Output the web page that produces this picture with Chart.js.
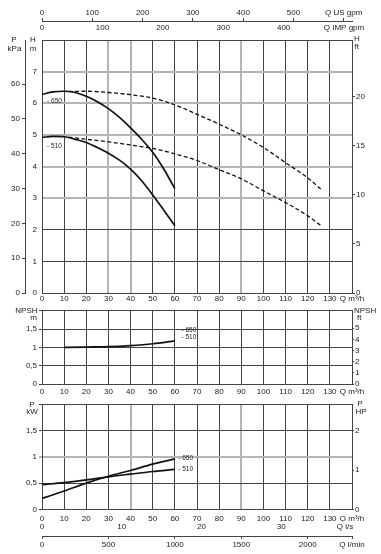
<!DOCTYPE html>
<html>
<head>
<meta charset="utf-8">
<script src="https://cdn.jsdelivr.net/npm/chart.js@4"></script>
<style>
body{margin:0;background:#fff;width:381px;height:554px;position:relative;overflow:hidden}
canvas{position:absolute;left:0}
</style>
</head>
<body>
<canvas id="headChart" width="381" height="304" style="top:0"></canvas>
<canvas id="npshChart" width="381" height="93" style="top:304px"></canvas>
<canvas id="powerChart" width="381" height="157" style="top:397px"></canvas>
<script>

// Q in m3/h, head in m, npsh in m, power in kW
let qPump=[0,5,10,15,20,25,30,35,40,45,50,55,60]
let head650=[6.28,6.36,6.38,6.34,6.22,6.05,5.83,5.55,5.22,4.86,4.45,3.92,3.3]
let head510=[4.92,4.95,4.94,4.86,4.76,4.6,4.42,4.2,3.92,3.55,3.1,2.62,2.13]

let qTwin=[12,20,30,40,50,60,70,80,90,100,110,120,126]
let twin650=[6.37,6.38,6.34,6.27,6.16,5.95,5.65,5.34,5.0,4.6,4.12,3.64,3.28]
let twin510=[4.93,4.86,4.78,4.68,4.57,4.4,4.19,3.9,3.61,3.23,2.86,2.44,2.13]

let qNpsh=[10,20,30,40,50,60]
let npsh=[1.0,1.01,1.02,1.05,1.1,1.18]

let qPower=[0,10,20,30,40,50,60]
let power650=[0.21,0.35,0.5,0.63,0.74,0.86,0.96]
let power510=[0.47,0.51,0.56,0.62,0.67,0.72,0.76]

let models=["650","510"]
let headTagQ=[2.3,2.3]
let headTagH=[6.08,4.63]
let npshTagQ=[63,63]
let npshTagV=[1.48,1.27]
let powerTagQ=[61.5,61.5]
let powerTagV=[0.97,0.76]

let lminTicks=[0,500,1000,1500,2000]
let lsTicks=[0,10,20,30]

let qMax=140
let usGpm=4.4029
let impGpm=3.666
let lsFactor=3.6
let lminFactor=0.06


Chart.defaults.font.family="'Liberation Sans', Arial, sans-serif"
Chart.defaults.font.size=8
Chart.defaults.color="#222"

let gridCol="#444"
let softCol="#b4b4b4"

function xy(q,v){
return q.map((x,i)=>({x:x,y:v[i]}))
}

function curve(q,v,axis,dashed){
return {
data:xy(q,v),
yAxisID:axis,
borderColor:"#111",
borderWidth:dashed?1.3:1.7,
borderDash:dashed?[4,2.5]:[],
pointRadius:0,
cubicInterpolationMode:"monotone",
fill:false
}
}

function grid(soft){
return {
color:c=>soft.includes(c.tick&&c.tick.value)?softCol:gridCol,
lineWidth:c=>soft.includes(c.tick&&c.tick.value)?2:1,
drawTicks:false
}
}

function comma(v){
return String(v).replace(".",",")
}

function qAxis(h,pad,soft){
return {
type:"linear",position:"bottom",min:0,max:qMax,weight:0,
ticks:{stepSize:10,autoSkip:false,maxRotation:0,padding:pad,callback:v=>v===qMax?"Q m³/h":v},
grid:grid(soft),
border:{color:gridCol},
afterFit:s=>{s.height=h}
}
}

function sideAxis(pos,max,step,width,shown,pad,tick,fmt){
return {
type:"linear",position:pos,min:0,max:max,
ticks:{stepSize:step,includeBounds:false,padding:pad,callback:v=>v>shown?null:fmt(v)},
grid:{drawOnChartArea:false,tickLength:tick,color:gridCol},
border:{color:gridCol},
afterFit:s=>{s.width=width}
}
}


/* unit labels and curve tags */

let chartText={
id:"chartText",
afterDraw(chart,args,opts){
let ctx=chart.ctx
let a=chart.chartArea
ctx.save()
ctx.fillStyle="#222"
ctx.textBaseline="middle"
ctx.font="8px 'Liberation Sans', Arial, sans-serif"
opts.units.forEach(u=>{
ctx.textAlign=u[4]
let x=u[1]==="left"?a.left+u[2]:a.right+u[2]
ctx.fillText(u[0],x,a.top+u[3])
})
ctx.font="6.5px 'Liberation Sans', Arial, sans-serif"
ctx.textAlign="left"
opts.tags.forEach(t=>{
let x=chart.scales.x.getPixelForValue(t.q)
let y=chart.scales[t.axis].getPixelForValue(t.v)
ctx.fillText("- "+t.text,x,y)
})
ctx.restore()
}
}

function tags(q,v,axis){
return models.map((m,i)=>({text:m,q:q[i],v:v[i],axis:axis}))
}

let base={
responsive:false,
animation:false,
devicePixelRatio:1,
events:[]
}


let headChart=new Chart(document.getElementById("headChart"),{

type:"line",

plugins:[chartText],

data:{
datasets:[
curve(qPump,head650,"h",false),
curve(qPump,head510,"h",false),
curve(qTwin,twin650,"h",true),
curve(qTwin,twin510,"h",true)
]
},

options:Object.assign({},base,{
layout:{padding:0},
plugins:{
legend:{display:false},
tooltip:{enabled:false},
chartText:{
units:[
["P","left",-28,0,"center"],
["kPa","left",-27.5,9,"center"],
["H","left",-9,0,"center"],
["m","left",-9,9,"center"],
["H","right",2,-1,"left"],
["ft","right",2.5,6.5,"left"]
],
tags:tags(headTagQ,headTagH,"h")
}
},
scales:{
x:qAxis(11,1,[30,40,90]),
us:{
type:"linear",position:"top",min:0,max:qMax*usGpm,weight:2,
ticks:{stepSize:100,includeBounds:false,autoSkip:false,maxRotation:0,padding:0,callback:v=>v===600?"Q US gpm":v},
grid:{drawOnChartArea:false,tickLength:3,color:gridCol},
border:{color:gridCol},
afterFit:s=>{s.height=21}
},
imp:{
type:"linear",position:"top",min:0,max:qMax*impGpm,weight:1,
ticks:{stepSize:100,includeBounds:false,autoSkip:false,maxRotation:0,padding:7,callback:v=>v===500?"Q IMP gpm":v},
grid:{display:false,drawTicks:false,tickLength:0},
border:{display:false},
afterFit:s=>{s.height=19}
},
kpa:Object.assign(sideAxis("left",72.7,10,25,60,2,3,v=>v),{weight:2}),
h:{
type:"linear",position:"left",min:0,max:8,weight:1,
ticks:{stepSize:1,padding:5,callback:v=>v===8?"":v},
grid:grid([3,4,5,6,7]),
border:{color:gridCol},
afterFit:s=>{s.width=17}
},
hft:sideAxis("right",25.8,5,29,20,1,3,v=>v)
}
})

})


let npshChart=new Chart(document.getElementById("npshChart"),{

type:"line",

plugins:[chartText],

data:{
datasets:[
curve(qNpsh,npsh,"n",false)
]
},

options:Object.assign({},base,{
layout:{padding:{top:6}},
plugins:{
legend:{display:false},
tooltip:{enabled:false},
chartText:{
units:[
["NPSH","left",-4.5,0,"right"],
["m","left",-5,7,"right"],
["NPSH","right",2,0,"left"],
["ft","right",5,7,"left"]
],
tags:tags(npshTagQ,npshTagV,"n")
}
},
scales:{
x:qAxis(13,3,[]),
n:{
type:"linear",position:"left",min:0,max:2,
ticks:{stepSize:0.5,padding:2,callback:v=>v===2?"":comma(v)},
grid:{color:gridCol,tickLength:3},
border:{color:gridCol},
afterFit:s=>{s.width=42}
},
nft:sideAxis("right",6.56,1,29,5,1,2,v=>v)
}
})

})


let powerChart=new Chart(document.getElementById("powerChart"),{

type:"line",

plugins:[chartText],

data:{
datasets:[
curve(qPower,power650,"p",false),
curve(qPower,power510,"p",false)
]
},

options:Object.assign({},base,{
layout:{padding:{top:7}},
plugins:{
legend:{display:false},
tooltip:{enabled:false},
chartText:{
units:[
["P","left",-10,1,"center"],
["kW","left",-10,8,"center"],
["P","right",8,0,"center"],
["HP","right",9,8,"center"]
],
tags:tags(powerTagQ,powerTagV,"p")
}
},
scales:{
x:qAxis(12,4,[40,90]),
ls:{
type:"linear",position:"bottom",min:0,max:qMax/lsFactor,weight:1,
ticks:{autoSkip:false,maxRotation:0,padding:0,callback:v=>lsTicks.includes(v)?v:"Q l/s"},
afterBuildTicks:s=>{s.ticks=lsTicks.concat([38]).map(v=>({value:v}))},
grid:{display:false,drawTicks:false,tickLength:0},
border:{display:false},
afterFit:s=>{s.height=14.5}
},
lmin:{
type:"linear",position:"bottom",min:0,max:qMax/lminFactor,weight:2,
ticks:{autoSkip:false,maxRotation:0,padding:1,callback:v=>lminTicks.includes(v)?v:"Q l/min"},
afterBuildTicks:s=>{s.ticks=lminTicks.concat([qMax/lminFactor]).map(v=>({value:v}))},
grid:{drawOnChartArea:false,tickLength:3,color:gridCol},
border:{color:gridCol},
afterFit:s=>{s.height=18}
},
p:{
type:"linear",position:"left",min:0,max:2,
ticks:{stepSize:0.5,padding:2,callback:v=>v===2?"":comma(v)},
grid:{color:c=>c.tick&&c.tick.value===1?softCol:gridCol,lineWidth:c=>c.tick&&c.tick.value===1?2:1,tickLength:3},
border:{color:gridCol},
afterFit:s=>{s.width=42}
},
hp:sideAxis("right",2.68,1,29,2,1,2,v=>v)
}
})

})

</script>
</body>
</html>
